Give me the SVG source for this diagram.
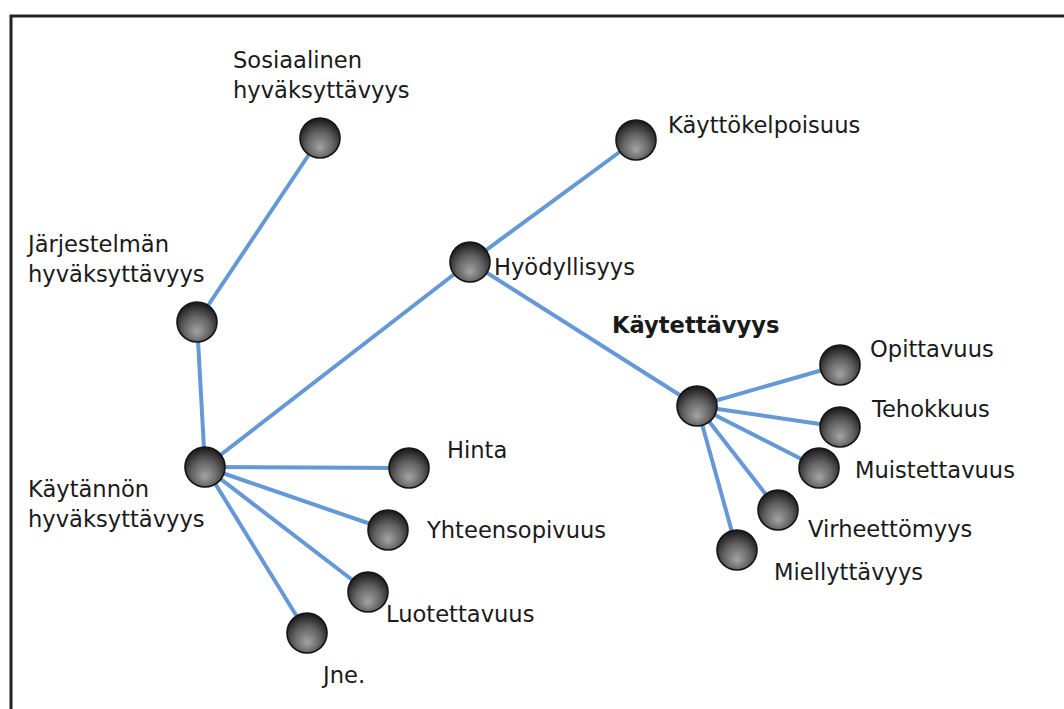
<svg xmlns="http://www.w3.org/2000/svg" width="1064" height="709" viewBox="0 0 1064 709">
<defs>
<radialGradient id="ball" cx="0.5" cy="0.62" r="0.6" fx="0.5" fy="0.75">
<stop offset="0" stop-color="#a4a4a4"/>
<stop offset="0.55" stop-color="#626262"/>
<stop offset="1" stop-color="#1a1a1a"/>
</radialGradient>
</defs>
<style>
.n{fill:url(#ball);stroke:#141414;stroke-width:1.6}
.e{stroke:#6498d6;stroke-width:4;fill:none;stroke-linecap:round}
text{font-family:"DejaVu Sans","Liberation Sans",sans-serif;font-size:22.6px;fill:#1a1a1a}
.b{font-weight:bold}
</style>
<rect width="1064" height="709" fill="#ffffff"/>
<path d="M11 709 V16 H1064" fill="none" stroke="#222" stroke-width="3"/>
<g id="connectors">
<line class="e" x1="320" y1="138" x2="197" y2="322"/>
<line class="e" x1="197" y1="322" x2="205" y2="467"/>
<line class="e" x1="205" y1="467" x2="470" y2="262"/>
<line class="e" x1="470" y1="262" x2="636" y2="140"/>
<line class="e" x1="470" y1="262" x2="697" y2="406"/>
<line class="e" x1="205" y1="467" x2="409" y2="468"/>
<line class="e" x1="205" y1="467" x2="388" y2="530"/>
<line class="e" x1="205" y1="467" x2="368" y2="592"/>
<line class="e" x1="205" y1="467" x2="307" y2="633"/>
<line class="e" x1="697" y1="406" x2="840" y2="365"/>
<line class="e" x1="697" y1="406" x2="840" y2="427"/>
<line class="e" x1="697" y1="406" x2="819" y2="468"/>
<line class="e" x1="697" y1="406" x2="778" y2="510"/>
<line class="e" x1="697" y1="406" x2="737" y2="550"/>
</g>
<g id="sosiaalinen"><circle class="n" cx="320" cy="138" r="20"/><text x="233" y="68">Sosiaalinen</text><text x="233" y="98">hyväksyttävyys</text></g>
<g id="jarjestelman"><circle class="n" cx="197" cy="322" r="20"/><text x="28" y="252">Järjestelmän</text><text x="28" y="282">hyväksyttävyys</text></g>
<g id="kaytannon"><circle class="n" cx="205" cy="467" r="20"/><text x="28" y="497">Käytännön</text><text x="28" y="527">hyväksyttävyys</text></g>
<g id="hyodyllisyys"><circle class="n" cx="470" cy="262" r="20"/><text x="494" y="275">Hyödyllisyys</text></g>
<g id="kayttokelpoisuus"><circle class="n" cx="636" cy="140" r="20"/><text x="668" y="133">Käyttökelpoisuus</text></g>
<g id="kaytettavyys"><circle class="n" cx="697" cy="406" r="20"/><text class="b" x="612" y="333">Käytettävyys</text></g>
<g id="hinta"><circle class="n" cx="409" cy="468" r="20"/><text x="447" y="458">Hinta</text></g>
<g id="yhteensopivuus"><circle class="n" cx="388" cy="530" r="20"/><text x="427" y="538">Yhteensopivuus</text></g>
<g id="luotettavuus"><circle class="n" cx="368" cy="592" r="20"/><text x="386" y="622">Luotettavuus</text></g>
<g id="jne"><circle class="n" cx="307" cy="633" r="20"/><text x="323" y="683">Jne.</text></g>
<g id="opittavuus"><circle class="n" cx="840" cy="365" r="20"/><text x="870" y="357">Opittavuus</text></g>
<g id="tehokkuus"><circle class="n" cx="840" cy="427" r="20"/><text x="872" y="417">Tehokkuus</text></g>
<g id="muistettavuus"><circle class="n" cx="819" cy="468" r="20"/><text x="855" y="478">Muistettavuus</text></g>
<g id="virheettomyys"><circle class="n" cx="778" cy="510" r="20"/><text x="808" y="537">Virheettömyys</text></g>
<g id="miellyttavyys"><circle class="n" cx="737" cy="550" r="20"/><text x="774" y="580">Miellyttävyys</text></g>
</svg>
